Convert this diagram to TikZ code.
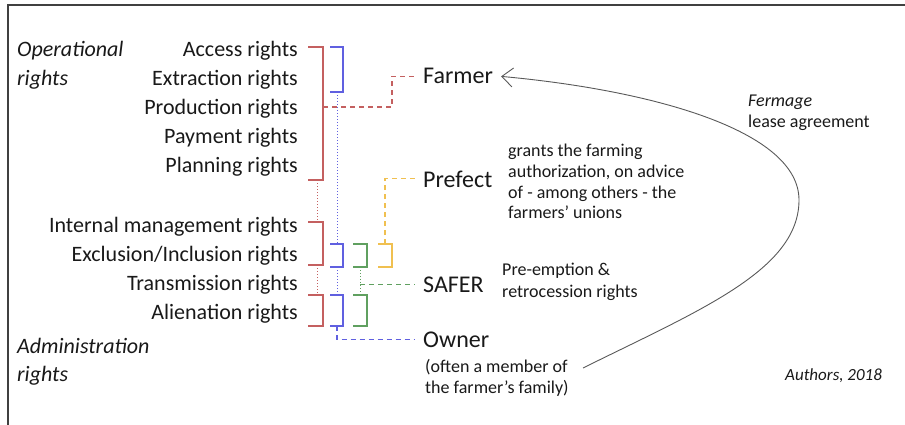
\documentclass[tikz,border=0pt]{standalone}
\usepackage{fontspec}
\setmainfont{Carlito}
\usetikzlibrary{arrows.meta}
\definecolor{rred}{RGB}{196,96,96}
\definecolor{rblue}{RGB}{96,96,224}
\definecolor{rgreen}{RGB}{96,160,96}
\definecolor{rorange}{RGB}{240,192,80}
\begin{document}
\begin{tikzpicture}[x=1pt,y=-1pt,
    every node/.style={inner sep=0pt,text=black!90},
    rgt/.style={anchor=base east,font=\fontsize{22}{26}\selectfont},
    grp/.style={anchor=base west,font=\fontsize{22}{26}\selectfont\itshape},
    actor/.style={anchor=base west,inner xsep=8pt,font=\fontsize{24}{28}\selectfont},
    note/.style={anchor=base west,font=\fontsize{18}{20}\selectfont},
    brk/.style={line width=1.3pt},
    dots/.style={line width=1pt,dash pattern=on 1pt off 2pt},
    dsh/.style={line width=1.2pt,dash pattern=on 5pt off 4pt}]
    \useasboundingbox (0,0) rectangle (905,425);
    \draw[line width=1.4pt,black!75] (905,5) -- (8,5) -- (8,425);

    % kinds of rights
    \node[grp] (op1) at (17,57) {Operational};
    \node[grp] (op2) at (17,86) {rights};
    \node[grp] (ad1) at (17,353) {Administration};
    \node[grp] (ad2) at (17,381) {rights};

    \node[rgt] (acc) at (298,57) {Access rights};
    \node[rgt] (ext) at (298,86) {Extraction rights};
    \node[rgt] (prod) at (298,115) {Production rights};
    \node[rgt] (pay) at (298,144) {Payment rights};
    \node[rgt] (plan) at (298,172) {Planning rights};
    \node[rgt] (intm) at (298,232) {Internal management rights};
    \node[rgt] (excl) at (298,261) {Exclusion/Inclusion rights};
    \node[rgt] (trans) at (298,290) {Transmission rights};
    \node[rgt] (alien) at (298,319) {Alienation rights};

    % holders
    \node[actor] (farmer) at (415,84) {Farmer};
    \node[actor] (prefect) at (415,187) {Prefect};
    \node[actor] (safer) at (415,292) {SAFER};
    \node[actor] (owner) at (415,347) {Owner};

    \node[note] (pr1) at (508,157) {grants the farming};
    \node[note] (pr2) at (508,177) {authorization, on advice};
    \node[note] (pr3) at (508,198) {of - among others - the};
    \node[note] (pr4) at (508,218) {farmers' unions};
    \node[note] (sa1) at (502,275) {Pre-emption \&};
    \node[note] (sa2) at (502,297) {retrocession rights};
    \node[note] (ow1) at (425,372) {(often a member of};
    \node[note] (ow2) at (425,393) {the farmer's family)};
    \node[note,font=\fontsize{18}{20}\selectfont\itshape] (fe1) at (748,107) {Fermage};
    \node[note] (fe2) at (748,128) {lease agreement};
    \node[note,font=\fontsize{17}{20}\selectfont\itshape] (auth) at (785,380) {Authors, 2018};

    % brackets
    \draw[brk,rred] (308,47) -| (323,180) -- (308,180);
    \draw[brk,rred] (308,222) -| (323,265) -- (308,265);
    \draw[brk,rred] (308,295) -| (323,326) -- (308,326);
    \draw[brk,rblue] (330,47) -| (343,92) -- (330,92);
    \draw[brk,rblue] (330,244) -| (343,267) -- (330,267);
    \draw[brk,rblue] (330,295) -| (343,326) -- (330,326);
    \draw[brk,rgreen] (353,244) -| (367,267) -- (353,267);
    \draw[brk,rgreen] (353,295) -| (367,326) -- (353,326);
    \draw[brk,rorange] (378,244) -| (392,267) -- (378,267);

    \draw[dots,rred] (317,180) -- (317,222) (317,265) -- (317,295);
    \draw[dots,rblue] (337,92) -- (337,244) (337,267) -- (337,295);
    \draw[dots,rgreen] (360,267) -- (360,295);

    \coordinate (r1) at (323,107);
    \coordinate (o1) at (385,244);
    \coordinate (g1) at (360,287);
    \coordinate (b1) at (337,326);
    \draw[dsh,rred] (r1) -- (392,107) |- (farmer.west);
    \draw[dsh,rorange] (o1) |- (prefect.west);
    \draw[dsh,rgreen] (safer.west -| g1) -- (safer.west);
    \draw[dsh,rblue] (b1) |- (owner.west);

    % lease
    \coordinate (lease) at (583,368);
    \draw[line width=0.9pt,black!65,-{Straight Barb[length=11pt,width=19pt]}]
        (lease) .. controls (700,310) and (799,270) .. (799,200)
        .. controls (799,130) and (650,90) .. (farmer.east);
\end{tikzpicture}
\end{document}
